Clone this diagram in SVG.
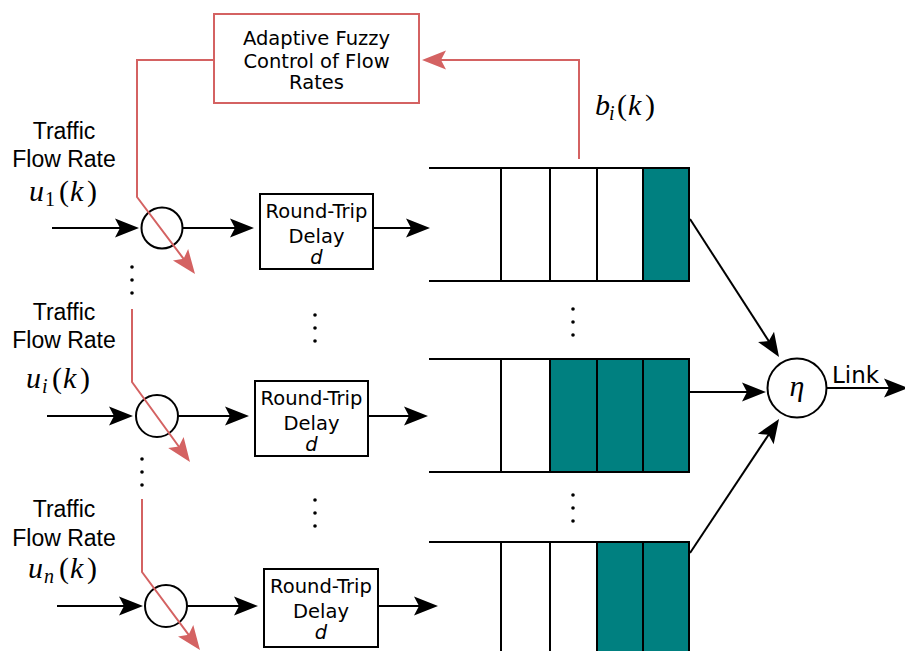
<svg xmlns="http://www.w3.org/2000/svg" width="905" height="651" viewBox="0 0 905 651">
  <style>
    .ln { fill: none; stroke: #000; stroke-width: 2; }
    .fb { fill: none; stroke: #d46262; stroke-width: 2; }
    .box { fill: #fff; stroke: #000; stroke-width: 2; }
    .ctl { fill: #fff; stroke: #d46262; stroke-width: 2; }
    .sum { fill: #fff; stroke: #000; stroke-width: 2; }
    .full { fill: #008080; stroke: #000; stroke-width: 2; }
    .dot { fill: #000; }
    .lbl { font-family: "Liberation Sans", Arial, sans-serif; font-size: 23px; text-anchor: middle; fill: #000; }
    .bt { font-family: "DejaVu Sans", Verdana, sans-serif; font-size: 19.5px; text-anchor: middle; fill: #000; }
    .ct { font-family: "DejaVu Sans", Verdana, sans-serif; font-size: 19.5px; text-anchor: middle; fill: #000; }
    .lk { font-family: "DejaVu Sans", Verdana, sans-serif; font-size: 23px; fill: #000; }
    .m { font-family: "Liberation Serif", "Times New Roman", serif; font-size: 30px; fill: #000; }
    .it { font-style: italic; }
    .sb { font-size: 20px; }
  </style>
  <defs>
    <marker id="ah" markerUnits="userSpaceOnUse" viewBox="-17 -10 26 20" refX="0" refY="0" markerWidth="26" markerHeight="20" orient="auto" overflow="visible">
      <path d="M8,0 L-16,-9.5 L-11,0 L-16,9.5 Z" fill="#000"/>
    </marker>
    <marker id="ahr" markerUnits="userSpaceOnUse" viewBox="-17 -10 26 20" refX="0" refY="0" markerWidth="26" markerHeight="20" orient="auto" overflow="visible">
      <path d="M8,0 L-16,-9.5 L-11,0 L-16,9.5 Z" fill="#d46262"/>
    </marker>
  </defs>

  <!-- controller -->
  <g id="controller">
    <rect class="ctl" x="214" y="14" width="205" height="89"/>
    <text class="ct" x="316.5" y="45">Adaptive Fuzzy</text>
    <text class="ct" x="316.5" y="68">Control of Flow</text>
    <text class="ct" x="316.5" y="89">Rates</text>
  </g>

  <!-- source labels -->
  <g id="source1">
    <text class="lbl" x="64" y="139">Traffic</text>
    <text class="lbl" x="64" y="167">Flow Rate</text>
    <text class="m"><tspan class="it" x="29" y="201">u</tspan><tspan class="sb" x="45" y="206">1</tspan><tspan x="59" y="201">(</tspan><tspan class="it" x="70" y="201">k</tspan><tspan x="87" y="201">)</tspan></text>
  </g>
  <g id="source2">
    <text class="lbl" x="64" y="320">Traffic</text>
    <text class="lbl" x="64" y="348">Flow Rate</text>
    <text class="m"><tspan class="it" x="26" y="388">u</tspan><tspan class="it sb" x="42" y="393">i</tspan><tspan x="52" y="388">(</tspan><tspan class="it" x="63" y="388">k</tspan><tspan x="80" y="388">)</tspan></text>
  </g>
  <g id="source3">
    <text class="lbl" x="64" y="517">Traffic</text>
    <text class="lbl" x="64" y="546">Flow Rate</text>
    <text class="m"><tspan class="it" x="28" y="578">u</tspan><tspan class="it sb" x="44" y="583">n</tspan><tspan x="59" y="578">(</tspan><tspan class="it" x="70" y="578">k</tspan><tspan x="87" y="578">)</tspan></text>
  </g>

  <!-- rate adjusters -->
  <g id="adjust1"><circle class="sum" cx="162" cy="228" r="20.5"/></g>
  <g id="adjust2"><circle class="sum" cx="157" cy="416" r="21"/></g>
  <g id="adjust3"><circle class="sum" cx="166" cy="606" r="21"/></g>

  <!-- delay blocks -->
  <g id="delay1">
    <rect class="box" x="260" y="194" width="113" height="75"/>
    <text class="bt" x="316.5" y="218">Round-Trip</text>
    <text class="bt" x="316.5" y="243">Delay</text>
    <text class="bt it" x="316.5" y="264">d</text>
  </g>
  <g id="delay2">
    <rect class="box" x="255" y="381" width="113" height="75"/>
    <text class="bt" x="311.5" y="405">Round-Trip</text>
    <text class="bt" x="311.5" y="430">Delay</text>
    <text class="bt it" x="311.5" y="451">d</text>
  </g>
  <g id="delay3">
    <rect class="box" x="264" y="569" width="114" height="78"/>
    <text class="bt" x="321" y="593">Round-Trip</text>
    <text class="bt" x="321" y="618">Delay</text>
    <text class="bt it" x="321" y="639">d</text>
  </g>

  <!-- buffers -->
  <g id="queue1">
    <rect class="full" x="643" y="168" width="46" height="113"/>
    <path class="ln" d="M429,168 H689 V281 H429 M501,168 V281 M550,168 V281 M597,168 V281 M643,168 V281"/>
  </g>
  <g id="queue2">
    <rect class="full" x="550" y="359" width="139" height="113"/>
    <path class="ln" d="M429,359 H689 V472 H429 M501,359 V472 M550,359 V472 M597,359 V472 M643,359 V472"/>
  </g>
  <g id="queue3">
    <rect class="full" x="597" y="542" width="92" height="120"/>
    <path class="ln" d="M429,542 H689 V662 M501,542 V662 M550,542 V662 M597,542 V662 M643,542 V662"/>
  </g>

  <!-- multiplexer -->
  <g id="mux">
    <circle class="sum" cx="797" cy="388" r="29.5"/>
    <text class="m it" x="797" y="396" text-anchor="middle" font-size="32">η</text>
  </g>
  <g id="link-label">
    <text class="lk" x="832" y="383">Link</text>
  </g>
  <g id="buffer-label">
    <text class="m"><tspan class="it" x="595" y="115">b</tspan><tspan class="it sb" x="609" y="120">i</tspan><tspan x="617" y="115">(</tspan><tspan class="it" x="628" y="115">k</tspan><tspan x="645" y="115">)</tspan></text>
  </g>

  <!-- continuation dots -->
  <g id="ellipses" class="dot">
    <circle cx="132" cy="267" r="1.8"/><circle cx="132" cy="280" r="1.8"/><circle cx="132" cy="293" r="1.8"/>
    <circle cx="142" cy="459" r="1.8"/><circle cx="142" cy="472" r="1.8"/><circle cx="142" cy="485" r="1.8"/>
    <circle cx="315" cy="315" r="1.8"/><circle cx="315" cy="328" r="1.8"/><circle cx="315" cy="341" r="1.8"/>
    <circle cx="315" cy="500" r="1.8"/><circle cx="315" cy="513" r="1.8"/><circle cx="315" cy="526" r="1.8"/>
    <circle cx="573" cy="309" r="1.8"/><circle cx="573" cy="322" r="1.8"/><circle cx="573" cy="335" r="1.8"/>
    <circle cx="573" cy="495" r="1.8"/><circle cx="573" cy="508" r="1.8"/><circle cx="573" cy="521" r="1.8"/>
  </g>

  <!-- connectors -->
  <g id="connectors">
    <line class="ln" x1="52" y1="228" x2="131" y2="228" marker-end="url(#ah)"/>
    <line class="ln" x1="183" y1="228" x2="246" y2="228" marker-end="url(#ah)"/>
    <line class="ln" x1="373" y1="228" x2="422" y2="228" marker-end="url(#ah)"/>
    <line class="ln" x1="47" y1="416" x2="125" y2="416" marker-end="url(#ah)"/>
    <line class="ln" x1="178" y1="416" x2="241" y2="416" marker-end="url(#ah)"/>
    <line class="ln" x1="368" y1="416" x2="420" y2="416" marker-end="url(#ah)"/>
    <line class="ln" x1="57" y1="606" x2="135" y2="606" marker-end="url(#ah)"/>
    <line class="ln" x1="187" y1="606" x2="250" y2="606" marker-end="url(#ah)"/>
    <line class="ln" x1="378" y1="606" x2="430" y2="606" marker-end="url(#ah)"/>
    <line class="ln" x1="690" y1="219" x2="774.7" y2="350.3" marker-end="url(#ah)"/>
    <line class="ln" x1="689" y1="392" x2="758" y2="392" marker-end="url(#ah)"/>
    <line class="ln" x1="690" y1="553" x2="774.6" y2="425.7" marker-end="url(#ah)"/>
    <line class="ln" x1="827" y1="388" x2="900" y2="388" marker-end="url(#ah)"/>
    <path class="fb" d="M579,159 V60 H430" marker-end="url(#ahr)"/>
    <path class="fb" d="M214,60 H137 V197 L190.2,267.6" marker-end="url(#ahr)"/>
    <path class="fb" d="M132,309 V382 L185.3,455.5" marker-end="url(#ahr)"/>
    <path class="fb" d="M142,499 V572 L195.2,643.6" marker-end="url(#ahr)"/>
  </g>
</svg>
